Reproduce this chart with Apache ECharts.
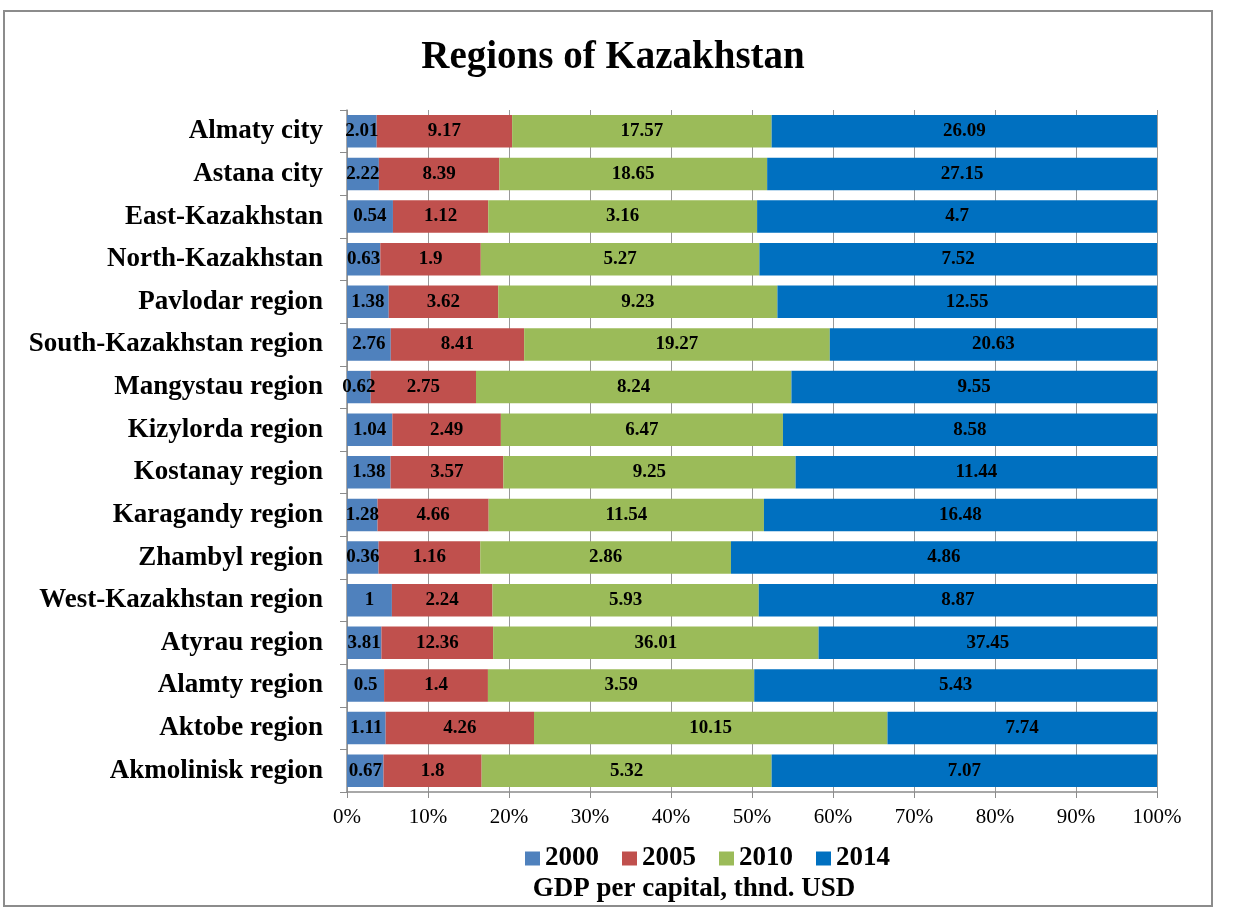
<!DOCTYPE html>
<html>
<head>
<meta charset="utf-8">
<script src="https://cdn.jsdelivr.net/npm/echarts@6/dist/echarts.min.js"></script>
<style>
html,body{margin:0;padding:0;background:#fff;}
#frame{position:absolute;left:3px;top:10px;width:1210px;height:897px;border:2px solid #8c8c8c;box-sizing:border-box;}
#chart{position:absolute;left:0;top:0;width:1233px;height:913px;}
</style>
</head>
<body>
<div id="frame"></div>
<div id="chart"></div>
<script>
const categories = ["Almaty city","Astana city","East-Kazakhstan","North-Kazakhstan","Pavlodar region","South-Kazakhstan region","Mangystau region","Kizylorda region","Kostanay region","Karagandy region","Zhambyl region","West-Kazakhstan region","Atyrau region","Alamty region","Aktobe region","Akmolinisk region"];
const years = ["2000","2005","2010","2014"];
const v2000 = [2.01,2.22,0.54,0.63,1.38,2.76,0.62,1.04,1.38,1.28,0.36,1,3.81,0.5,1.11,0.67];
const v2005 = [9.17,8.39,1.12,1.9,3.62,8.41,2.75,2.49,3.57,4.66,1.16,2.24,12.36,1.4,4.26,1.8];
const v2010 = [17.57,18.65,3.16,5.27,9.23,19.27,8.24,6.47,9.25,11.54,2.86,5.93,36.01,3.59,10.15,5.32];
const v2014 = [26.09,27.15,4.7,7.52,12.55,20.63,9.55,8.58,11.44,16.48,4.86,8.87,37.45,5.43,7.74,7.07];
const colors = ["#4F81BD","#C0504D","#9BBB59","#0070C0"];
const xTicks = [0,10,20,30,40,50,60,70,80,90,100];

const raw = [v2000,v2005,v2010,v2014];
const totals = categories.map((c,i)=>raw.reduce((s,a)=>s+a[i],0));
const FONT = '"Liberation Serif","Times New Roman",serif';

const chart = echarts.init(document.getElementById('chart'));
chart.setOption({
  animation:false,
  textStyle:{fontFamily:FONT},
  title:[
    {text:"Regions of Kazakhstan",left:608,top:33,textAlign:'center',
     textStyle:{fontFamily:FONT,fontSize:39,fontWeight:'bold',color:'#000'}},
    {text:"GDP per capital, thnd. USD",left:689,top:871,textAlign:'center',
     textStyle:{fontFamily:FONT,fontSize:27,fontWeight:'bold',color:'#000'}}
  ],
  legend:{
    data:years,left:520,top:840,itemWidth:15,itemHeight:14,itemGap:23,icon:'rect',
    textStyle:{fontFamily:FONT,fontSize:27,fontWeight:'bold',color:'#000'}
  },
  grid:{left:347,right:76,top:110,bottom:121,containLabel:false},
  xAxis:{
    type:'value',min:0,max:100,interval:10,
    axisLine:{show:true,lineStyle:{color:'#8c8c8c',width:1.5}},
    axisTick:{show:true,length:6,lineStyle:{color:'#8c8c8c'}},
    splitLine:{show:true,lineStyle:{color:'#999',width:1}},
    axisLabel:{formatter:v=>xTicks.includes(v)?v+'%':'',fontFamily:FONT,fontSize:21,color:'#000',margin:15}
  },
  yAxis:{
    type:'category',data:categories,inverse:true,
    axisLine:{show:true,lineStyle:{color:'#8c8c8c',width:1.5}},
    axisTick:{show:true,length:7,lineStyle:{color:'#8c8c8c'}},
    axisLabel:{fontFamily:FONT,fontSize:27,fontWeight:'bold',color:'#000',margin:24}
  },
  series:years.map((y,k)=>({
    name:y,type:'bar',stack:'total',barWidth:'76%',
    itemStyle:{color:colors[k]},
    label:{show:true,position:'inside',formatter:p=>String(raw[k][p.dataIndex]),
      fontFamily:FONT,fontSize:19,fontWeight:'bold',color:'#000'},
    data:raw[k].map((v,i)=>v/totals[i]*100)
  }))
});
</script>
</body>
</html>
